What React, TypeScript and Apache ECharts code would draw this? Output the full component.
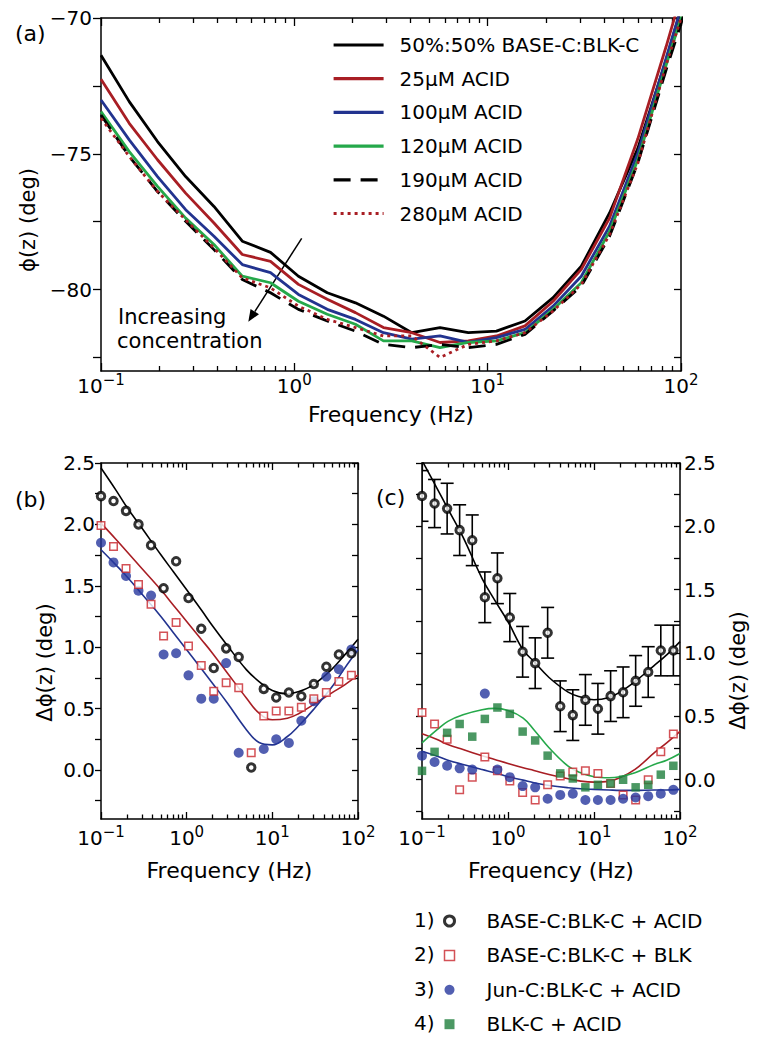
import { useEffect, useRef } from 'react';
import * as echarts from 'echarts';

const FONT = 'DejaVu Sans';
const BLACK = '#000000';

// ---------- panel (a) data ----------
const freqA = [0.1, 0.14, 0.196, 0.274, 0.384, 0.538, 0.753, 1.05, 1.48, 2.07, 2.89, 4.05, 5.67, 7.94, 11.1, 15.6, 21.8, 30.5, 42.7, 59.8, 83.7, 117];
const namesA = ['50%:50% BASE-C:BLK-C', '25µM ACID', '100µM ACID', '120µM ACID', '190µM ACID', '280µM ACID'];
const phiBase = [-71.37, -73.08, -74.55, -75.84, -76.94, -78.22, -78.63, -79.51, -80.12, -80.49, -80.98, -81.59, -81.4, -81.59, -81.53, -81.16, -80.3, -79.14, -77.18, -74.8, -71.55, -68.0];
const phi25 = [-72.26, -73.88, -75.22, -76.45, -77.55, -78.71, -78.96, -79.81, -80.36, -80.85, -81.4, -81.59, -81.95, -81.89, -81.71, -81.34, -80.43, -79.26, -77.37, -74.45, -71.06, -67.5];
const phi100 = [-73.02, -74.49, -75.84, -77.06, -78.04, -79.08, -79.38, -80.18, -80.73, -81.1, -81.59, -81.83, -81.71, -81.95, -81.77, -81.47, -80.61, -79.51, -77.67, -74.98, -71.49, -68.0];
const phi120 = [-73.45, -74.92, -76.2, -77.37, -78.34, -79.51, -79.75, -80.43, -80.91, -81.28, -81.89, -81.89, -82.14, -81.95, -81.89, -81.59, -80.73, -79.75, -77.86, -75.22, -71.74, -68.5];
const phi190 = [-73.57, -75.1, -76.39, -77.49, -78.53, -79.63, -80.12, -80.73, -81.16, -81.53, -82.02, -82.14, -82.02, -82.14, -82.02, -81.65, -80.79, -79.87, -78.04, -75.35, -71.92, -68.7];
const phi280 = [-73.69, -75.1, -76.39, -77.43, -78.47, -79.57, -79.94, -80.61, -81.1, -81.4, -81.71, -81.71, -82.5, -82.02, -81.89, -81.59, -80.79, -79.81, -77.98, -75.35, -71.74, -68.5];

// ---------- panels (b), (c) data ----------
const freqBC = [0.1, 0.14, 0.196, 0.274, 0.384, 0.538, 0.753, 1.05, 1.48, 2.07, 2.89, 4.05, 5.67, 7.94, 11.1, 15.6, 21.8, 30.5, 42.7, 59.8, 83.7];
const namesBC = ['BASE-C:BLK-C + ACID', 'BASE-C:BLK-C + BLK', 'Jun-C:BLK-C + ACID', 'BLK-C + ACID'];

const b1 = [2.23, 2.19, 2.11, 2.0, 1.83, 1.48, 1.7, 1.4, 1.15, 0.83, 0.99, 0.92, 0.02, 0.66, 0.59, 0.63, 0.6, 0.7, 0.84, 0.94, 0.95];
const b2 = [1.99, 1.82, 1.64, 1.51, 1.35, 1.09, 1.2, 1.01, 0.85, 0.64, 0.71, 0.67, 0.14, 0.44, 0.48, 0.48, 0.51, 0.58, 0.63, 0.72, 0.77];
const b3 = [1.85, 1.69, 1.58, 1.46, 1.42, 0.94, 0.95, 0.77, 0.58, 0.58, 0.87, 0.14, null, 0.17, 0.25, 0.22, 0.4, 0.56, 0.76, 0.82, 0.98];

const c1 = [2.24, 2.18, 2.14, 1.97, 1.89, 1.44, 1.59, 1.28, 1.01, 0.92, 1.16, 0.58, 0.51, 0.63, 0.56, 0.66, 0.69, 0.78, 0.85, 1.02, 1.02];
const c1Err = [0.2, 0.19, 0.2, 0.2, 0.2, 0.2, 0.2, 0.19, 0.2, 0.2, 0.2, 0.2, 0.2, 0.2, 0.2, 0.2, 0.2, 0.2, 0.2, 0.2, 0.2];
const c2 = [0.53, 0.44, 0.32, -0.08, 0.02, 0.18, 0.07, -0.01, -0.1, -0.16, -0.04, 0.03, 0.06, 0.07, 0.05, -0.03, -0.12, -0.16, 0.0, 0.22, 0.36];
const c3 = [0.19, 0.14, 0.11, 0.09, 0.08, 0.68, 0.08, 0.02, -0.05, -0.06, -0.15, -0.12, -0.11, -0.16, -0.16, -0.16, -0.15, -0.14, -0.13, -0.11, -0.08];
const c4 = [0.07, 0.22, 0.37, 0.44, 0.34, 0.48, 0.57, 0.52, 0.38, 0.31, 0.19, 0.05, 0.01, -0.06, -0.04, -0.03, 0.0, -0.06, -0.04, 0.04, 0.11];

// fitted curves
const fitFreq = [0.1, 0.15, 0.2, 0.3, 0.5, 0.7, 1, 1.5, 2, 3, 5, 7, 10, 15, 20, 30, 50, 70, 100];
const fitB1 = [2.459, 2.277, 2.141, 1.97, 1.752, 1.614, 1.467, 1.298, 1.174, 1.011, 0.815, 0.72, 0.647, 0.619, 0.636, 0.693, 0.823, 0.937, 1.065];
const fitB2 = [2.01, 1.877, 1.779, 1.641, 1.467, 1.342, 1.209, 1.059, 0.951, 0.788, 0.584, 0.462, 0.408, 0.421, 0.456, 0.53, 0.63, 0.693, 0.774];
const fitB3 = [1.793, 1.668, 1.576, 1.432, 1.25, 1.117, 0.978, 0.82, 0.706, 0.543, 0.326, 0.223, 0.204, 0.272, 0.353, 0.489, 0.679, 0.829, 0.978];
const fitC1 = [2.52, 2.298, 2.138, 1.915, 1.588, 1.417, 1.247, 1.024, 0.933, 0.807, 0.692, 0.653, 0.631, 0.649, 0.692, 0.775, 0.901, 0.985, 1.09];
const fitC2 = [0.362, 0.317, 0.278, 0.238, 0.19, 0.16, 0.128, 0.094, 0.073, 0.042, 0.008, -0.011, -0.019, -0.011, 0.016, 0.081, 0.212, 0.291, 0.382];
const fitC3 = [0.225, 0.186, 0.154, 0.12, 0.08, 0.055, 0.024, -0.003, -0.024, -0.045, -0.063, -0.071, -0.076, -0.081, -0.084, -0.084, -0.081, -0.081, -0.076];
const fitC4 = [0.291, 0.395, 0.461, 0.513, 0.553, 0.563, 0.547, 0.487, 0.395, 0.252, 0.107, 0.055, 0.024, 0.016, 0.024, 0.055, 0.12, 0.154, 0.207];

// axis ticks
const xMajor = [-1, 0, 1, 2];
const xMinorMult = [2, 3, 4, 5, 6, 7, 8, 9];
const xMinorDecades = [0.1, 1, 10];
const yTicksA = [-82.5, -80, -77.5, -75, -72.5, -70];
const yLabelsA = [-80, -75, -70];
const yTicksBC = [-0.25, 0, 0.25, 0.5, 0.75, 1, 1.25, 1.5, 1.75, 2, 2.25, 2.5];
const yLabelsBC = [0, 0.5, 1, 1.5, 2, 2.5];

// colours
const RED_LINE = '#A81E24';
const BLUE_LINE = '#22338F';
const GREEN_LINE = '#25A84A';
const RED_MARK = '#C8262C';
const BLUE_MARK = '#27379E';
const GREEN_MARK = '#1E7E3C';

const lg = (f: number) => Math.log10(f);
const pts = (fs: number[], vs: (number | null)[]) => fs.map((f, i) => [lg(f), vs[i]]);

function buildOption() {
  const xMinor: number[] = [];
  xMinorDecades.forEach((d) => xMinorMult.forEach((m) => xMinor.push(lg(m * d))));

  const axisLine = { show: true, onZero: false, lineStyle: { color: BLACK, width: 1.5 } };
  const noLine = { show: false, onZero: false };
  const tickStyle = { color: BLACK, width: 1.3 };
  const txt = { fontFamily: FONT, fontSize: 20, color: BLACK };
  const titleX = { fontFamily: FONT, fontSize: 22, color: BLACK };
  const titleY = { fontFamily: FONT, fontSize: 21, color: BLACK };

  const supText = (v: number) => (v < 0 ? '\u2212' + Math.abs(v) : String(v));
  const xFmt = (v: number) => '{b|10}{s|' + supText(Math.round(v)) + '}';
  const xRich = {
    b: { fontFamily: FONT, fontSize: 20, color: BLACK, lineHeight: 24, verticalAlign: 'bottom' },
    s: { fontFamily: FONT, fontSize: 15, color: BLACK, lineHeight: 15, verticalAlign: 'top' },
  };

  const xAxesFor = (gi: number, o: { major: number; minor: number; margin: number; nameGap: number }) => {
    const base = { gridIndex: gi, type: 'value', min: -1, max: 2, splitLine: { show: false } };
    return [
      {
        ...base, position: 'bottom', axisLine,
        axisTick: { show: true, inside: true, length: o.major, customValues: xMajor, lineStyle: tickStyle },
        axisLabel: { show: true, customValues: xMajor, margin: o.margin, formatter: xFmt, rich: xRich },
        name: 'Frequency (Hz)', nameLocation: 'middle', nameGap: o.nameGap, nameTextStyle: titleX,
      },
      {
        ...base, position: 'bottom', axisLine: noLine,
        axisTick: { show: true, inside: true, length: o.minor, customValues: xMinor, lineStyle: tickStyle },
        axisLabel: { show: false },
      },
      {
        ...base, position: 'top', axisLine,
        axisTick: { show: true, inside: true, length: o.major, customValues: xMajor, lineStyle: tickStyle },
        axisLabel: { show: false },
      },
      {
        ...base, position: 'top', axisLine: noLine,
        axisTick: { show: true, inside: true, length: o.minor, customValues: xMinor, lineStyle: tickStyle },
        axisLabel: { show: false },
      },
    ];
  };

  const yFmtA = (v: number) => (v < 0 ? '\u2212' + Math.abs(v) : String(v));
  const yFmtBC = (v: number) => v.toFixed(1);

  const yAxes = [
    // (a) left / right
    {
      gridIndex: 0, type: 'value', min: -83, max: -70, position: 'left', splitLine: { show: false }, axisLine,
      axisTick: { show: true, inside: false, length: 8, customValues: yTicksA, lineStyle: tickStyle },
      axisLabel: { show: true, customValues: yLabelsA, formatter: yFmtA, margin: 9, ...txt },
      name: 'ϕ(z) (deg)', nameLocation: 'middle', nameRotate: 90, nameGap: 46,
      nameTextStyle: { ...titleY, padding: [0, 51, 0, 0] },
    },
    {
      gridIndex: 0, type: 'value', min: -83, max: -70, position: 'right', splitLine: { show: false }, axisLine,
      axisTick: { show: true, inside: true, length: 7, customValues: yTicksA, lineStyle: tickStyle },
      axisLabel: { show: false },
    },
    // (b) left / right
    {
      gridIndex: 1, type: 'value', min: -0.4, max: 2.5, position: 'left', splitLine: { show: false }, axisLine,
      axisTick: { show: true, inside: false, length: 6, customValues: yTicksBC, lineStyle: tickStyle },
      axisLabel: { show: true, customValues: yLabelsBC, formatter: yFmtBC, margin: 6, ...txt },
      name: 'Δϕ(z) (deg)', nameLocation: 'middle', nameRotate: 90, nameGap: 46,
      nameTextStyle: { ...titleY, padding: [0, 43, 0, 0] },
    },
    {
      gridIndex: 1, type: 'value', min: -0.4, max: 2.5, position: 'right', splitLine: { show: false }, axisLine,
      axisTick: { show: true, inside: true, length: 6, customValues: yTicksBC, lineStyle: tickStyle },
      axisLabel: { show: false },
    },
    // (c) left / right
    {
      gridIndex: 2, type: 'value', min: -0.31, max: 2.5, position: 'left', splitLine: { show: false }, axisLine,
      axisTick: { show: true, inside: false, length: 6, customValues: yTicksBC, lineStyle: tickStyle },
      axisLabel: { show: false },
    },
    {
      gridIndex: 2, type: 'value', min: -0.31, max: 2.5, position: 'right', splitLine: { show: false }, axisLine,
      axisTick: { show: true, inside: true, length: 6, customValues: yTicksBC, lineStyle: tickStyle },
      axisLabel: { show: true, customValues: yLabelsBC, formatter: yFmtBC, margin: 4, ...txt },
      name: 'Δϕ(z) (deg)', nameLocation: 'middle', nameRotate: 90, nameGap: 47,
      nameTextStyle: { ...titleY, padding: [0, 59, 0, 0] },
    },
  ];

  const xAxes = [
    ...xAxesFor(0, { major: 8, minor: 5, margin: 1, nameGap: 32 }),
    ...xAxesFor(1, { major: 7, minor: 4.5, margin: 5, nameGap: 40 }),
    ...xAxesFor(2, { major: 7, minor: 4.5, margin: 5, nameGap: 40 }),
  ];

  const lineA = (name: string, vals: number[], color: string, type: any) => ({
    type: 'line', name, xAxisIndex: 0, yAxisIndex: 0, data: pts(freqA, vals),
    symbol: 'none', showSymbol: false, smooth: false, clip: true,
    lineStyle: { color, width: 2.8, type, cap: 'butt' }, itemStyle: { color }, z: 2,
  });

  const fit = (xi: number, yi: number, vals: number[], color: string) => ({
    type: 'line', xAxisIndex: xi, yAxisIndex: yi, data: pts(fitFreq, vals),
    symbol: 'none', showSymbol: false, smooth: 0.4, clip: true, silent: true,
    lineStyle: { color, width: 1.6 }, z: 2,
  });

  const markStyles = [
    { symbol: 'circle', symbolSize: 7.5, itemStyle: { color: '#ffffff', borderColor: BLACK, borderWidth: 3 } },
    { symbol: 'rect', symbolSize: 7.5, itemStyle: { color: '#ffffff', borderColor: RED_MARK, borderWidth: 1.5 } },
    { symbol: 'circle', symbolSize: 10, itemStyle: { color: BLUE_MARK, borderWidth: 0 } },
    { symbol: 'rect', symbolSize: 8.5, itemStyle: { color: GREEN_MARK, borderWidth: 0 } },
  ];

  const scat = (k: number, xi: number, yi: number, vals: (number | null)[], z: number) => ({
    type: 'scatter', name: namesBC[k], xAxisIndex: xi, yAxisIndex: yi,
    data: pts(freqBC, vals).filter((p) => p[1] !== null), clip: true, z,
    ...markStyles[k],
  });

  const errSeries = {
    type: 'custom', name: 'error', xAxisIndex: 8, yAxisIndex: 4, clip: true, z: 4, silent: true,
    data: freqBC.map((f, i) => [lg(f), c1[i] - c1Err[i], c1[i] + c1Err[i]]),
    encode: { x: 0, y: [1, 2] },
    renderItem: (_params: any, api: any) => {
      const x = api.value(0);
      const top = api.coord([x, api.value(2)]);
      const bot = api.coord([x, api.value(1)]);
      const hw = 6.5;
      const style = { stroke: BLACK, lineWidth: 1.6, fill: 'none' };
      return {
        type: 'group',
        children: [
          { type: 'line', shape: { x1: top[0], y1: top[1], x2: bot[0], y2: bot[1] }, style },
          { type: 'line', shape: { x1: top[0] - hw, y1: top[1], x2: top[0] + hw, y2: top[1] }, style },
          { type: 'line', shape: { x1: bot[0] - hw, y1: bot[1], x2: bot[0] + hw, y2: bot[1] }, style },
        ],
      };
    },
  };

  const series: any[] = [
    lineA(namesA[0], phiBase, BLACK, 'solid'),
    lineA(namesA[1], phi25, RED_LINE, 'solid'),
    lineA(namesA[2], phi100, BLUE_LINE, 'solid'),
    lineA(namesA[3], phi120, GREEN_LINE, 'solid'),
    lineA(namesA[4], phi190, BLACK, [17, 10]),
    lineA(namesA[5], phi280, RED_LINE, [3, 4]),
    // (b)
    fit(4, 2, fitB1, BLACK),
    fit(4, 2, fitB2, RED_LINE),
    fit(4, 2, fitB3, BLUE_LINE),
    scat(2, 4, 2, b3, 5),
    scat(1, 4, 2, b2, 6),
    scat(0, 4, 2, b1, 7),
    // (c)
    fit(8, 4, fitC1, BLACK),
    fit(8, 4, fitC2, RED_LINE),
    fit(8, 4, fitC3, BLUE_LINE),
    fit(8, 4, fitC4, GREEN_LINE),
    scat(1, 8, 4, c2, 5),
    scat(3, 8, 4, c4, 6),
    scat(2, 8, 4, c3, 6),
    errSeries,
    scat(0, 8, 4, c1, 7),
  ];

  // arrow geometry (annotation)
  const ax1 = 301.7, ay1 = 238.3, ax2 = 248.3, ay2 = 321.7;
  const dx = ax2 - ax1, dy = ay2 - ay1;
  const len = Math.sqrt(dx * dx + dy * dy);
  const ux = dx / len, uy = dy / len;
  const headL = 12, headW = 5;
  const bx = ax2 - ux * headL, by = ay2 - uy * headL;

  const graphic: any[] = [
    { type: 'text', x: 15, y: 33, style: { text: '(a)', fontFamily: FONT, fontSize: 22, fill: BLACK, verticalAlign: 'middle' } },
    { type: 'text', x: 15, y: 499, style: { text: '(b)', fontFamily: FONT, fontSize: 22, fill: BLACK, verticalAlign: 'middle' } },
    { type: 'text', x: 376, y: 497, style: { text: '(c)', fontFamily: FONT, fontSize: 22, fill: BLACK, verticalAlign: 'middle' } },
    { type: 'text', x: 118, y: 317, style: { text: 'Increasing', fontFamily: FONT, fontSize: 21, fill: BLACK, verticalAlign: 'middle' } },
    { type: 'text', x: 117, y: 341, style: { text: 'concentration', fontFamily: FONT, fontSize: 21, fill: BLACK, verticalAlign: 'middle' } },
    { type: 'line', shape: { x1: ax1, y1: ay1, x2: bx, y2: by }, style: { stroke: BLACK, lineWidth: 1.5 } },
    {
      type: 'polygon',
      shape: { points: [[ax2, ay2], [bx + uy * headW, by - ux * headW], [bx - uy * headW, by + ux * headW]] },
      style: { fill: BLACK },
    },
  ];
  ['1)', '2)', '3)', '4)'].forEach((t, i) => {
    graphic.push({
      type: 'text', x: 414, y: 920 + i * 34.4,
      style: { text: t, fontFamily: FONT, fontSize: 20, fill: BLACK, verticalAlign: 'middle' },
    });
  });

  const legendB = namesBC.map((n, k) => ({ name: n, icon: markStyles[k].symbol, itemStyle: markStyles[k].itemStyle }));

  return {
    animation: false,
    backgroundColor: '#ffffff',
    textStyle: { fontFamily: FONT },
    grid: [
      { left: 101, top: 18, width: 580, height: 353 },
      { left: 101, top: 463, width: 257, height: 356 },
      { left: 422, top: 463, width: 258, height: 356 },
    ],
    xAxis: xAxes,
    yAxis: yAxes,
    legend: [
      {
        data: namesA, orient: 'vertical', left: 327, top: 28, itemWidth: 50, itemHeight: 14, itemGap: 9.7,
        selectedMode: false,
        itemStyle: { opacity: 0 },
        lineStyle: { width: 3.2 },
        textStyle: { fontFamily: FONT, fontSize: 20, color: BLACK, lineHeight: 24, padding: [0, 0, 0, 11] },
      },
      {
        data: legendB, orient: 'vertical', left: 438, top: 904, itemWidth: 10, itemHeight: 10, itemGap: 10.4,
        selectedMode: false,
        textStyle: { fontFamily: FONT, fontSize: 20, color: BLACK, lineHeight: 24, padding: [0, 0, 0, 27] },
      },
    ],
    graphic,
    series,
  };
}

export default function App() {
  const ref = useRef<HTMLDivElement>(null);
  useEffect(() => {
    if (!ref.current) return;
    const chart = echarts.init(ref.current, null, { renderer: 'svg' });
    chart.setOption(buildOption() as any);
    return () => chart.dispose();
  }, []);
  return (
    <div
      ref={ref}
      style={{ position: 'fixed', left: 0, top: 0, width: 765, height: 1050, background: '#ffffff' }}
    />
  );
}
